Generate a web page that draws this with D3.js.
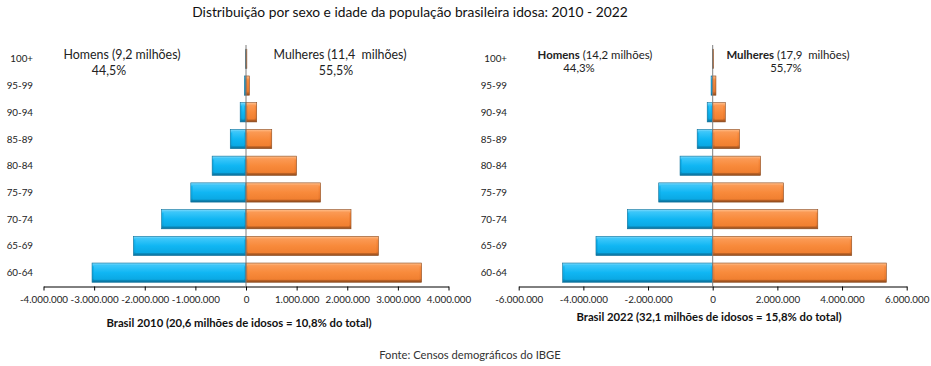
<!DOCTYPE html>
<html><head><meta charset="utf-8">
<script src="https://cdn.jsdelivr.net/npm/d3@7"></script>
<style>
html,body{margin:0;padding:0;background:#fff;}
svg{display:block;font-family:Lato,"Open Sans",sans-serif;}
</style></head>
<body>
<svg id="chart" width="931" height="366"></svg>
<script>
const ageGroups = ["100+","95-99","90-94","85-89","80-84","75-79","70-74","65-69","60-64"];
const men2010   = [7247, 31529, 114964, 310759, 668623, 1090517, 1667372, 2224065, 3041034];
const women2010 = [16989, 66806, 211595, 508724, 998349, 1472930, 2074264, 2616745, 3468085];
const men2022   = [12000, 50000, 170000, 480000, 1010000, 1670000, 2640000, 3610000, 4640000];
const women2022 = [25000, 100000, 390000, 830000, 1480000, 2190000, 3250000, 4300000, 5370000];
const ticks2010 = [-4000000,-3000000,-2000000,-1000000,0,1000000,2000000,3000000,4000000];
const ticks2022 = [-6000000,-4000000,-2000000,0,2000000,4000000,6000000];
const titleText = "Distribuição por sexo e idade da população brasileira idosa: 2010 - 2022";
const sourceText = "Fonte: Censos demográficos do IBGE";

const svg = d3.select("#chart");
const loc = d3.formatLocale({decimal:",", thousands:".", grouping:[3], currency:["R$",""], minus:"-"});
const fmt = loc.format(",d");

const defs = svg.append("defs");
function grad(id, stops){
  const g = defs.append("linearGradient").attr("id", id).attr("x1",0).attr("y1",0).attr("x2",0).attr("y2",1);
  stops.forEach(s => g.append("stop").attr("offset", s[0]).attr("stop-color", s[1]));
}
grad("blueEdge", [[0,"#7fdcff"],[0.2,"#12b6f2"],[0.8,"#0aa3dc"],[1,"#0a6f99"]]);
grad("orangeEdge", [[0,"#ffc08e"],[0.2,"#f98a3c"],[0.8,"#e8782c"],[1,"#8f4a1c"]]);
grad("blueIn", [[0,"#3cc7fa"],[0.5,"#10b6f3"],[1,"#0aa8e3"]]);
grad("orangeIn", [[0,"#fb9a55"],[0.5,"#f88a3b"],[1,"#f07f30"]]);

svg.append("text").attr("x", 410).attr("y", 17).attr("text-anchor","middle")
  .attr("font-size", 13.8).attr("fill","#111").text(titleText);
svg.append("text").attr("x", 470).attr("y", 359).attr("text-anchor","middle")
  .attr("font-size", 11.2).attr("fill","#333").text(sourceText);

function pyramid(cfg){
  const x = d3.scaleLinear().domain(cfg.domain).range(cfg.range);
  const y = d3.scaleBand().domain(ageGroups).range([45.5, 286]).paddingInner(0.28).paddingOuter(0.14);
  const g = svg.append("g");
  const rows = ageGroups.map((a,i) => ({age:a, m:-cfg.men[i], w:cfg.women[i]}));

  function bars(key, edge, inner, stroke){
    const data = rows.map(r => ({age:r.age, v:r[key]}));
    const x0 = x(0);
    g.selectAll(null).data(data).join("rect")
      .attr("x", d => Math.min(x(d.v), x0))
      .attr("y", d => y(d.age))
      .attr("width", d => Math.abs(x(d.v) - x0))
      .attr("height", y.bandwidth())
      .attr("fill", `url(#${edge})`).attr("stroke", stroke).attr("stroke-width", 0.6);
    g.selectAll(null).data(data.filter(d => Math.abs(x(d.v)-x0) > 5)).join("rect")
      .attr("x", d => Math.min(x(d.v), x0) + 2)
      .attr("y", d => y(d.age) + 2.5)
      .attr("width", d => Math.abs(x(d.v) - x0) - 4)
      .attr("height", y.bandwidth() - 5)
      .attr("fill", `url(#${inner})`);
  }
  bars("m", "blueEdge", "blueIn", "#0b6e98");
  bars("w", "orangeEdge", "orangeIn", "#8a4a1e");

  g.append("line").attr("x1", x(0)).attr("x2", x(0)).attr("y1", 45).attr("y2", 286)
    .attr("stroke", "#7f7f7f").attr("stroke-width", 1);

  const ax = g.append("g").attr("transform", "translate(0,286.5)")
    .call(d3.axisBottom(x).tickValues(cfg.ticks).tickFormat(fmt).tickSize(4).tickSizeOuter(0).tickPadding(6));
  ax.select(".domain").attr("stroke", "#000");
  ax.selectAll(".tick line").attr("stroke", "#000");
  ax.selectAll(".tick text").attr("font-size", 9.8).attr("fill","#222").attr("font-family","Lato,'Open Sans',sans-serif");

  g.selectAll(null).data(ageGroups).join("text")
    .attr("x", cfg.labelX).attr("y", d => y(d) + y.bandwidth()/2 + 3.5)
    .attr("text-anchor", "end").attr("font-size", 9.8).attr("fill","#222").text(d => d);

  g.append("text").attr("x", cfg.subX).attr("y", cfg.subY).attr("text-anchor","middle")
    .attr("font-size", 11.3).attr("font-weight", "bold").attr("fill","#111").text(cfg.subtitle);

  cfg.notes.forEach(n => {
    const t = g.append("text").attr("x", n.x).attr("y", n.y).attr("text-anchor","middle")
      .attr("font-size", n.size).attr("fill","#222");
    if (n.bold) { t.append("tspan").attr("font-weight","bold").text(n.bold); }
    t.append("tspan").attr("xml:space","preserve").text(n.text);
  });
}

pyramid({
  men: men2010, women: women2010, domain: [-4000000, 4000000], range: [43.5, 448.5],
  ticks: ticks2010, labelX: 33, subX: 239, subY: 327,
  subtitle: "Brasil 2010 (20,6 milhões de idosos = 10,8% do total)",
  notes: [
    {x:122, y:59, size:12.4, text:"Homens (9,2 milhões)"},
    {x:109, y:75, size:12.4, text:"44,5%"},
    {x:340, y:59, size:12.4, text:"Mulheres (11,4  milhões)"},
    {x:336, y:75, size:12.4, text:"55,5%"}
  ]
});
pyramid({
  men: men2022, women: women2022, domain: [-6000000, 6000000], range: [518.7, 906.7],
  ticks: ticks2022, labelX: 507, subX: 709, subY: 321,
  subtitle: "Brasil 2022 (32,1 milhões de idosos = 15,8% do total)",
  notes: [
    {x:595, y:58.5, size:11.4, bold:"Homens", text:" (14,2 milhões)"},
    {x:579, y:71.5, size:11.4, text:"44,3%"},
    {x:788, y:58.5, size:11.4, bold:"Mulheres", text:" (17,9  milhões)"},
    {x:786, y:71.5, size:11.4, text:"55,7%"}
  ]
});
</script>
</body></html>
